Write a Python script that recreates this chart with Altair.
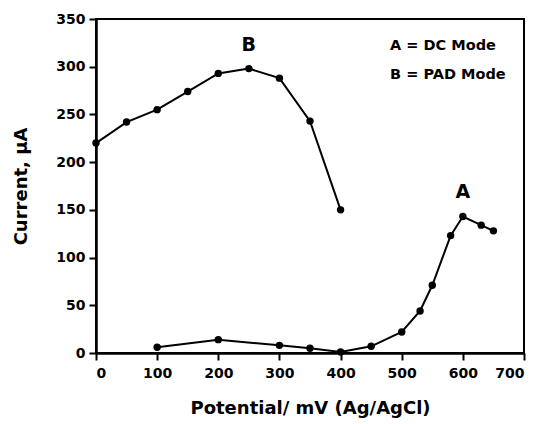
import altair as alt
import pandas as pd

# Series B: PAD mode
b_x = [0, 50, 100, 150, 200, 250, 300, 350, 400]
b_y = [220, 242, 255, 274, 293, 298, 288, 243, 150]
# Series A: DC mode
a_x = [100, 200, 300, 350, 400, 450, 500, 530, 550, 580, 600, 630, 650]
a_y = [6, 14, 8, 5, 1, 7, 22, 44, 71, 123, 143, 134, 128]

x_ticks = [0, 100, 200, 300, 400, 500, 600, 700]
y_ticks = [0, 50, 100, 150, 200, 250, 300, 350]

labels_txt = ["B", "A"]
labels_x = [250, 600]
labels_y = [323, 169]

legend_txt = ["A = DC Mode", "B = PAD Mode"]
legend_x = [481, 481]
legend_y = [322, 291]

df = pd.DataFrame({
    "x": b_x + a_x,
    "y": b_y + a_y,
    "s": ["B"] * len(b_x) + ["A"] * len(a_x),
})
lab = pd.DataFrame({"t": labels_txt, "x": labels_x, "y": labels_y})
leg = pd.DataFrame({"t": legend_txt, "x": legend_x, "y": legend_y})

FONT = "DejaVu Sans"

xs = alt.Scale(domain=[0, 700], nice=False)
ys = alt.Scale(domain=[0, 350], nice=False)

xax = alt.Axis(values=x_ticks, title="Potential/ mV (Ag/AgCl)", grid=False,
               labelFont=FONT, labelFontSize=14, labelFontWeight="bold",
               labelColor="black", titleFont=FONT, titleFontSize=18,
               titleFontWeight="bold", titleColor="black", domainColor="black",
               domainWidth=2.5, tickColor="black", tickWidth=2, tickSize=7,
               labelPadding=6, titlePadding=19)
yax = alt.Axis(values=y_ticks, title="Current, μA", grid=False,
               labelFont=FONT, labelFontSize=14, labelFontWeight="bold",
               labelColor="black", titleFont=FONT, titleFontSize=18,
               titleFontWeight="bold", titleColor="black", domainColor="black",
               domainWidth=2.5, tickColor="black", tickWidth=2, tickSize=7,
               labelPadding=4, titlePadding=25)

base = alt.Chart(df)
lines = base.mark_line(color="black", strokeWidth=2).encode(
    x=alt.X("x:Q", scale=xs, axis=xax),
    y=alt.Y("y:Q", scale=ys, axis=yax),
    detail="s:N",
)
pts = base.mark_circle(color="black", size=55, opacity=1).encode(
    x=alt.X("x:Q", scale=xs),
    y=alt.Y("y:Q", scale=ys),
)
labels = alt.Chart(lab).mark_text(font=FONT, fontSize=19, fontWeight="bold",
                                  color="black").encode(
    x=alt.X("x:Q", scale=xs), y=alt.Y("y:Q", scale=ys), text="t:N")
legend = alt.Chart(leg).mark_text(font=FONT, fontSize=14.5, fontWeight="bold",
                                  color="black", align="left").encode(
    x=alt.X("x:Q", scale=xs), y=alt.Y("y:Q", scale=ys), text="t:N")

chart = alt.layer(lines, pts, labels, legend).properties(
    width=428, height=334,
    autosize=alt.AutoSizeParams(type="none"),
    padding={"left": 88, "top": 11, "right": 8, "bottom": 68},
    background="white",
).configure_view(stroke="black", strokeWidth=2)

chart.save("out.html", embed_options={"renderer": "svg", "actions": False})
